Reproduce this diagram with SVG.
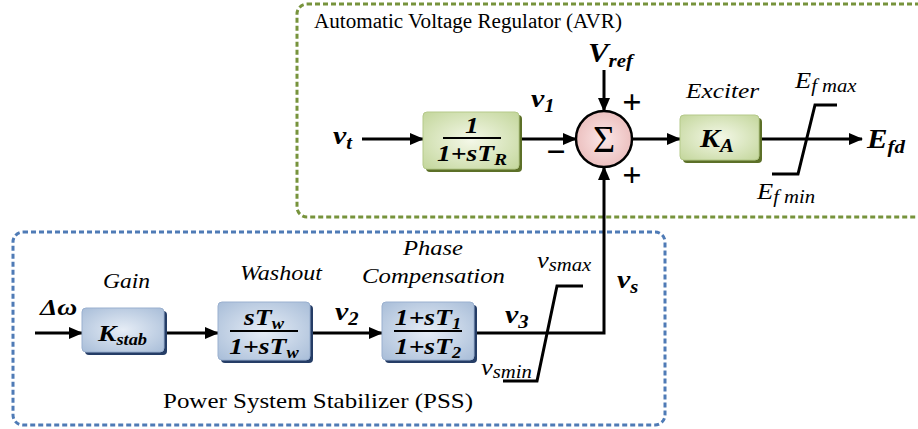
<svg xmlns="http://www.w3.org/2000/svg" width="918" height="429" viewBox="0 0 918 429">
<defs>
  <radialGradient id="gG" cx="50%" cy="50%" r="70%">
    <stop offset="0" stop-color="#f4f8e8"/>
    <stop offset="1" stop-color="#c3d69b"/>
  </radialGradient>
  <radialGradient id="gB" cx="50%" cy="50%" r="70%">
    <stop offset="0" stop-color="#e6edf6"/>
    <stop offset="1" stop-color="#a8bdd8"/>
  </radialGradient>
  <radialGradient id="gP" cx="50%" cy="50%" r="60%">
    <stop offset="0" stop-color="#fbe6e6"/>
    <stop offset="1" stop-color="#e9b9b8"/>
  </radialGradient>
  <marker id="ah" viewBox="0 0 14 12" refX="13" refY="6" markerWidth="14" markerHeight="12" markerUnits="userSpaceOnUse" orient="auto">
    <path d="M0,0 L14,6 L0,12 Z" fill="#000"/>
  </marker>
  <style>
    svg text, svg tspan, g text, g tspan { font-family: "Liberation Serif", serif !important; }
  </style>
</defs>

<g id="avr-frame">
  <rect x="297" y="4" width="660" height="213" rx="10" fill="none" stroke="#77933c" stroke-width="3" stroke-dasharray="5 3"/>
  <text style="font-family:'Liberation Serif',serif" x="314" y="28" font-size="20" textLength="308" lengthAdjust="spacingAndGlyphs">Automatic Voltage Regulator (AVR)</text>
</g>
<g id="pss-frame">
  <rect x="13" y="232" width="652" height="193" rx="10" fill="none" stroke="#4f7bb6" stroke-width="3" stroke-dasharray="5 3"/>
  <text style="font-family:'Liberation Serif',serif" x="163" y="408" font-size="21" textLength="310" lengthAdjust="spacingAndGlyphs">Power System Stabilizer (PSS)</text>
</g>

<g id="connectors" stroke="#000" stroke-width="3" fill="none" marker-end="url(#ah)">
  <line x1="362" y1="139" x2="423" y2="139"/>
  <line x1="522" y1="139" x2="576" y2="139"/>
  <line x1="604" y1="70" x2="604" y2="111"/>
  <line x1="632" y1="139" x2="680" y2="139"/>
  <line x1="762" y1="139" x2="862" y2="139"/>
  <line x1="35" y1="333" x2="82" y2="333"/>
  <line x1="167" y1="333" x2="218" y2="333"/>
  <line x1="313" y1="333" x2="382" y2="333"/>
  <polyline points="477,333 604,333 604,167"/>
</g>

<g id="avr-limiter">
  <polyline points="772,174 798,174 815,105 837,105" stroke="#000" stroke-width="3" fill="none"/>
  <text style="font-family:'Liberation Serif',serif" font-style="italic" transform="matrix(1.15,0,0,1,795,88)" font-size="23">E<tspan font-size="18" dy="4">f max</tspan></text>
  <text style="font-family:'Liberation Serif',serif" font-style="italic" transform="matrix(1.15,0,0,1,757,199)" font-size="23">E<tspan font-size="18" dy="4">f min</tspan></text>
</g>
<g id="pss-limiter">
  <polyline points="503,381 537,381 557,286 583,286" stroke="#000" stroke-width="3" fill="none"/>
  <text style="font-family:'Liberation Serif',serif" font-style="italic" transform="matrix(1.15,0,0,1,537,268)" font-size="23">v<tspan font-size="18" dy="3">smax</tspan></text>
  <text style="font-family:'Liberation Serif',serif" font-style="italic" transform="matrix(1.15,0,0,1,481,375)" font-size="23">v<tspan font-size="18" dy="3">smin</tspan></text>
</g>

<g id="vt-label">
  <text style="font-family:'Liberation Serif',serif" font-weight="bold" font-style="italic" transform="matrix(1.15,0,0,1,333,144)" font-size="26">v<tspan font-size="18" dy="5">t</tspan></text>
</g>

<g id="transducer">
  <rect x="426" y="115" width="96" height="57" rx="4" fill="#5c7028"/>
  <rect x="423" y="112" width="96" height="57" rx="4" fill="url(#gG)" stroke="#b5c98a"/>
  <text style="font-family:'Liberation Serif',serif" font-weight="bold" font-style="italic" transform="matrix(1.15,0,0,1,472,133)" font-size="24" text-anchor="middle">1</text>
  <line x1="443" y1="138" x2="501" y2="138" stroke="#000" stroke-width="2"/>
  <text style="font-family:'Liberation Serif',serif" font-weight="bold" font-style="italic" transform="matrix(1.15,0,0,1,472,161)" font-size="24" text-anchor="middle">1+sT<tspan font-size="17" dy="4">R</tspan></text>
</g>
<g id="v1-label">
  <text style="font-family:'Liberation Serif',serif" font-weight="bold" font-style="italic" transform="matrix(1.15,0,0,1,531,107)" font-size="26">v<tspan font-size="18" dy="5">1</tspan></text>
</g>

<g id="vref-label">
  <text style="font-family:'Liberation Serif',serif" font-weight="bold" font-style="italic" transform="matrix(1.1,0,0,1,588,62)" font-size="28">V<tspan font-size="19" dy="5">ref</tspan></text>
</g>

<g id="summer">
  <circle cx="604" cy="139" r="28" fill="url(#gP)" stroke="#000" stroke-width="2.5"/>
  <text style="font-family:'Liberation Serif',serif" x="604" y="152" font-size="38" text-anchor="middle">Σ</text>
  <text style="font-family:'Liberation Serif',serif" x="632" y="113" font-size="34" font-weight="bold" text-anchor="middle">+</text>
  <text style="font-family:'Liberation Serif',serif" x="632" y="186" font-size="34" font-weight="bold" text-anchor="middle">+</text>
  <text style="font-family:'Liberation Serif',serif" x="556" y="163" font-size="34" font-weight="bold" text-anchor="middle">−</text>
</g>

<g id="exciter">
  <text style="font-family:'Liberation Serif',serif" font-style="italic" x="686" y="98" font-size="22" textLength="73" lengthAdjust="spacingAndGlyphs">Exciter</text>
  <rect x="683" y="118" width="79" height="45" rx="4" fill="#5c7028"/>
  <rect x="680" y="115" width="79" height="45" rx="4" fill="url(#gG)" stroke="#b5c98a"/>
  <text style="font-family:'Liberation Serif',serif" font-weight="bold" font-style="italic" transform="matrix(1.15,0,0,1,700,147)" font-size="26">K<tspan font-size="18" dy="5">A</tspan></text>
</g>

<g id="efd-label">
  <text style="font-family:'Liberation Serif',serif" font-weight="bold" font-style="italic" transform="matrix(1.1,0,0,1,867,148)" font-size="28">E<tspan font-size="19" dy="5">fd</tspan></text>
</g>

<g id="dw-label">
  <text style="font-family:'Liberation Serif',serif" font-weight="bold" font-style="italic" transform="matrix(1.15,0,0,1,40,315)" font-size="24">Δω</text>
</g>

<g id="gain">
  <text style="font-family:'Liberation Serif',serif" font-style="italic" x="103" y="288" font-size="22" textLength="47" lengthAdjust="spacingAndGlyphs">Gain</text>
  <rect x="85" y="311" width="82" height="44" rx="4" fill="#253d66"/>
  <rect x="82" y="308" width="82" height="44" rx="4" fill="url(#gB)" stroke="#9ab0cf"/>
  <text style="font-family:'Liberation Serif',serif" font-weight="bold" font-style="italic" transform="matrix(1.15,0,0,1,98,341)" font-size="24">K<tspan font-size="16" dy="4">stab</tspan></text>
</g>

<g id="washout">
  <text style="font-family:'Liberation Serif',serif" font-style="italic" x="240" y="280" font-size="22" textLength="82" lengthAdjust="spacingAndGlyphs">Washout</text>
  <rect x="221" y="305" width="92" height="58" rx="4" fill="#253d66"/>
  <rect x="218" y="302" width="92" height="58" rx="4" fill="url(#gB)" stroke="#9ab0cf"/>
  <text style="font-family:'Liberation Serif',serif" font-weight="bold" font-style="italic" transform="matrix(1.15,0,0,1,264,325)" font-size="24" text-anchor="middle">sT<tspan font-size="16" dy="4">w</tspan></text>
  <line x1="230" y1="331" x2="298" y2="331" stroke="#000" stroke-width="2"/>
  <text style="font-family:'Liberation Serif',serif" font-weight="bold" font-style="italic" transform="matrix(1.15,0,0,1,264,354)" font-size="24" text-anchor="middle">1+sT<tspan font-size="16" dy="4">w</tspan></text>
</g>
<g id="v2-label">
  <text style="font-family:'Liberation Serif',serif" font-weight="bold" font-style="italic" transform="matrix(1.15,0,0,1,335,320)" font-size="26">v<tspan font-size="18" dy="5">2</tspan></text>
</g>

<g id="phase-comp">
  <text style="font-family:'Liberation Serif',serif" font-style="italic" x="403" y="255" font-size="22" textLength="60" lengthAdjust="spacingAndGlyphs">Phase</text>
  <text style="font-family:'Liberation Serif',serif" font-style="italic" x="362" y="283" font-size="22" textLength="143" lengthAdjust="spacingAndGlyphs">Compensation</text>
  <rect x="385" y="305" width="92" height="58" rx="4" fill="#253d66"/>
  <rect x="382" y="302" width="92" height="58" rx="4" fill="url(#gB)" stroke="#9ab0cf"/>
  <text style="font-family:'Liberation Serif',serif" font-weight="bold" font-style="italic" transform="matrix(1.15,0,0,1,428,325)" font-size="24" text-anchor="middle">1+sT<tspan font-size="16" dy="4">1</tspan></text>
  <line x1="394" y1="331" x2="462" y2="331" stroke="#000" stroke-width="2"/>
  <text style="font-family:'Liberation Serif',serif" font-weight="bold" font-style="italic" transform="matrix(1.15,0,0,1,428,354)" font-size="24" text-anchor="middle">1+sT<tspan font-size="16" dy="4">2</tspan></text>
</g>
<g id="v3-label">
  <text style="font-family:'Liberation Serif',serif" font-weight="bold" font-style="italic" transform="matrix(1.15,0,0,1,505,323)" font-size="26">v<tspan font-size="18" dy="5">3</tspan></text>
</g>
<g id="vs-label">
  <text style="font-family:'Liberation Serif',serif" font-weight="bold" font-style="italic" transform="matrix(1.15,0,0,1,617,288)" font-size="26">v<tspan font-size="18" dy="5">s</tspan></text>
</g>
</svg>
